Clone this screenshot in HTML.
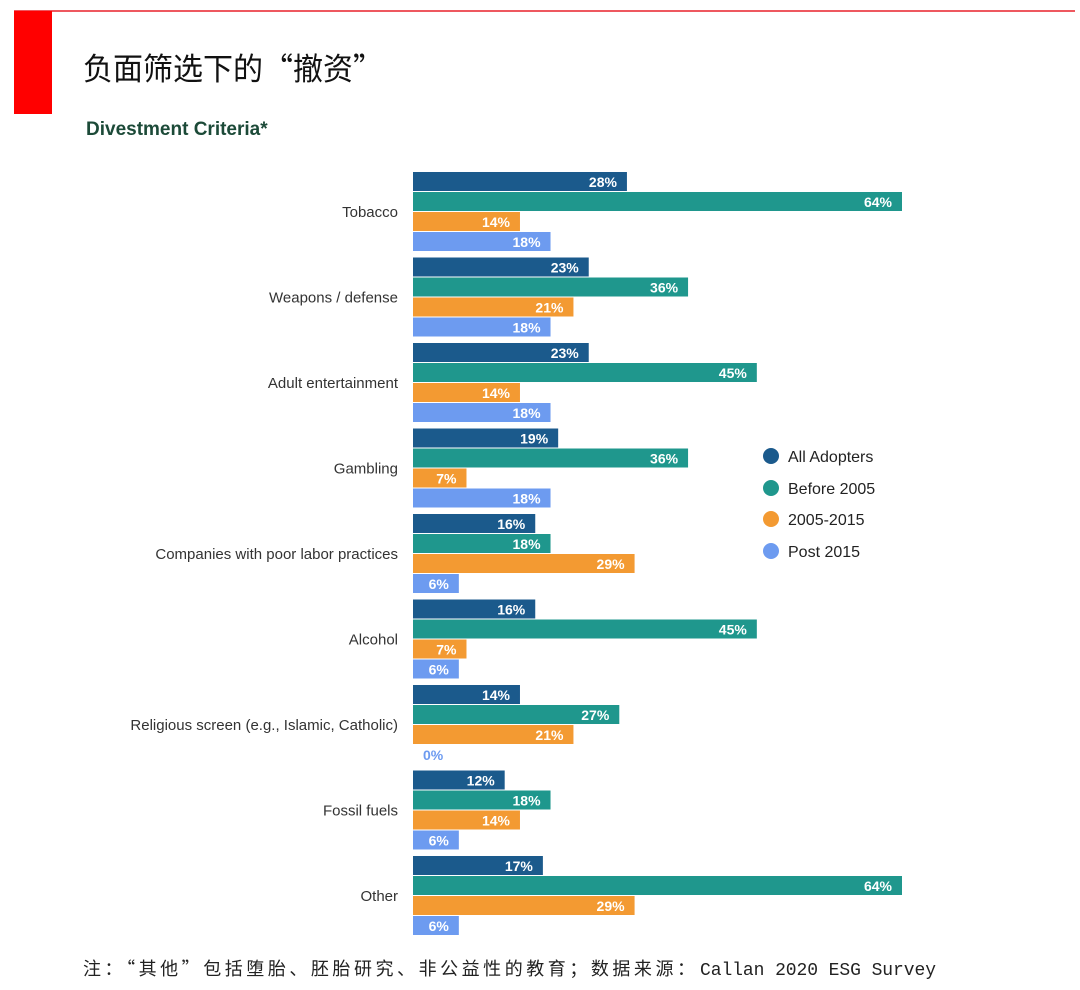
<!DOCTYPE html>
<html><head><meta charset="utf-8"><style>
body{margin:0;width:1080px;height:985px;background:#fff;overflow:hidden;font-family:"Liberation Sans","Noto Sans CJK SC",sans-serif}
</style></head><body>
<svg width="1080" height="985" xmlns="http://www.w3.org/2000/svg">
<line x1="14" y1="11" x2="1075" y2="11" stroke="#e8202a" stroke-width="1.5"/>
<rect x="14" y="11" width="38" height="103" fill="#ff0000"/>
<text x="83" y="80" font-size="31" fill="#111" font-family="'Noto Sans CJK SC',sans-serif" textLength="300" lengthAdjust="spacingAndGlyphs">负面筛选下的“撤资”</text>
<text x="86" y="135" font-size="19" font-weight="bold" fill="#1c4a38">Divestment Criteria*</text>
<g id="chart"></g>
<g font-size="16" fill="#222">
<g><circle cx="771" cy="456" r="8" fill="#1b5a8c"/><text x="788" y="462">All Adopters</text></g>
<g><circle cx="771" cy="488" r="8" fill="#1f978d"/><text x="788" y="494">Before 2005</text></g>
<g><circle cx="771" cy="519" r="8" fill="#f39a32"/><text x="788" y="525">2005-2015</text></g>
<g><circle cx="771" cy="551" r="8" fill="#6d9bf0"/><text x="788" y="557">Post 2015</text></g>
</g>
<g fill="#222">
<text x="83" y="975" font-size="18" font-family="'Noto Sans CJK SC',sans-serif" textLength="612" lengthAdjust="spacing">注：“其他”包括堕胎、胚胎研究、非公益性的教育；数据来源：</text>
<text x="700" y="975" font-size="18" font-family="'Liberation Mono',monospace" textLength="236" lengthAdjust="spacing">Callan 2020 ESG Survey</text>
</g>
</svg>
<script>
const categories=["Tobacco","Weapons / defense","Adult entertainment","Gambling","Companies with poor labor practices","Alcohol","Religious screen (e.g., Islamic, Catholic)","Fossil fuels","Other"];
const allAdopters=[28,23,23,19,16,16,14,12,17];
const before2005=[64,36,45,36,18,45,27,18,64];
const y2005to2015=[14,21,14,7,29,7,21,14,29];
const post2015=[18,18,18,18,6,6,0,6,6];
const series=[allAdopters,before2005,y2005to2015,post2015];
const seriesNames=["all-adopters","before-2005","2005-2015","post-2015"];
const colors=["#1b5a8c","#1f978d","#f39a32","#6d9bf0"];
const NS="http://www.w3.org/2000/svg";
const x0=413, pxPer=(902-413)/64;
const xScale=v=>x0+v*pxPer;
const groupTop=i=>172+i*85.5;
const g=document.getElementById('chart');
categories.forEach((c,i)=>{
  const t=document.createElementNS(NS,'text');
  t.setAttribute('x',398);t.setAttribute('y',groupTop(i)+45);
  t.setAttribute('text-anchor','end');t.setAttribute('font-size','15');t.setAttribute('fill','#333');
  t.textContent=c;
  
  
  g.appendChild(t);
  series.forEach((s,k)=>{
    const v=s[i];const y=groupTop(i)+k*20;
    const r=document.createElementNS(NS,'rect');
    r.setAttribute('x',x0);r.setAttribute('y',y);
    r.setAttribute('width',Math.max(0,xScale(v)-x0));r.setAttribute('height',19);
    r.setAttribute('fill',colors[k]);
    
    
    g.appendChild(r);
    const l=document.createElementNS(NS,'text');
    const inside=v>=5;
    l.setAttribute('x',inside?xScale(v)-10:x0+10);
    l.setAttribute('y',y+15);
    l.setAttribute('text-anchor',inside?'end':'start');
    l.setAttribute('font-size','14');l.setAttribute('font-weight','bold');
    l.setAttribute('fill',inside?'#fff':colors[k]);
    l.textContent=v+'%';
    
    
    g.appendChild(l);
  });
});
</script>
</body></html>
